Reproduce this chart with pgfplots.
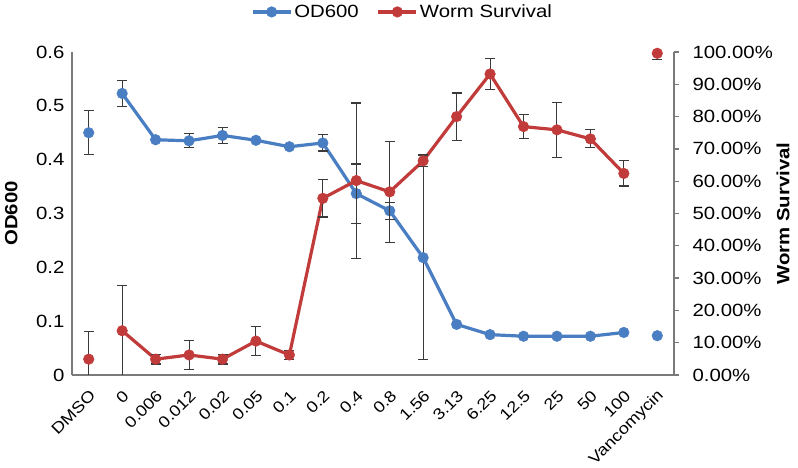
\documentclass[border=0pt]{standalone}
\usepackage{pgfplots}
\usepackage{pgfplotstable}
\pgfplotsset{compat=1.18}
\usepackage{fontspec}
\setmainfont{Liberation Sans}[FakeStretch=1.15]
\definecolor{odblue}{HTML}{4A7EC2}
\definecolor{wsred}{HTML}{C23B3B}
\definecolor{axgray}{HTML}{7A7A7A}
\definecolor{errgray}{HTML}{3A3A3A}
\newcommand\fs{\fontsize{17.7pt}{21pt}\selectfont}
\newcommand\fx{\fontsize{15.8pt}{19pt}\selectfont}

\pgfplotstableread{
x y e
1 0.523 0.024
2 0.437 0.000
3 0.435 0.013
4 0.445 0.015
5 0.436 0.000
6 0.424 0.000
7 0.431 0.015
8 0.337 0.055
9 0.305 0.016
10 0.218 0.190
11 0.094 0.000
12 0.075 0.000
13 0.072 0.000
14 0.072 0.000
15 0.072 0.000
16 0.079 0.000
}\odline
\pgfplotstableread{
x y e
0 0.450 0.041
17 0.073 0.000
}\odsingle
\pgfplotstableread{
x y e
1 13.7 14.1
2 4.9 1.5
3 6.2 4.4
4 4.9 1.5
5 10.5 4.4
6 6.2 1.5
7 54.7 5.8
8 60.2 24.0
9 56.7 15.6
10 66.3 1.8
11 80.0 7.3
12 93.2 4.8
13 76.9 3.8
14 75.9 8.6
15 73.1 2.8
16 62.4 3.9
}\wsline
\pgfplotstableread{
x y e
0 4.9 8.5
17 99.6 2.0
}\wssingle

\pgfplotsset{
  errstyle/.style={error bars/.cd, y dir=both, y explicit,
    error bar style={errgray, line width=1.1pt},
    error mark options={errgray, rotate=90, mark size=5pt, line width=1.1pt}},
  common/.style={scale only axis, width=602pt, height=323pt,
    at={(72pt,93pt)}, anchor=south west, xmin=-0.5, xmax=17.5,
    clip mode=individual, axis line style={-, axgray, line width=1.3pt},
    /pgf/number format/assume math mode=true,
    tick label style={font=\fs}, label style={font=\fs\bfseries}},
}

\begin{document}
\begin{tikzpicture}[x=1pt,y=1pt]
\path[use as bounding box] (0,0) rectangle (798,468);
\begin{axis}[common,
  axis x line*=bottom, axis y line*=left,
  ymin=0, ymax=0.6,
  xtick={0,...,17},
  xticklabels={DMSO,0,0.006,0.012,0.02,0.05,0.1,0.2,0.4,0.8,1.56,3.13,6.25,12.5,25,50,100,Vancomycin},
  xtick style={draw=none}, ytick style={draw=none},
  ytick={0,0.1,0.2,0.3,0.4,0.5,0.6},
  yticklabels={0,0.1,0.2,0.3,0.4,0.5,0.6},
  yticklabel style={xshift=-4pt},
  xticklabel style={font=\fx, xshift=4pt, yshift=-18pt, rotate=45, anchor=east, inner sep=0pt},
  ylabel={OD600},
  ylabel style={at={(axis description cs:-0.101,0.5)}, anchor=center},
]
\addplot[odblue, line width=3.2pt, mark=*, mark size=5.3pt,
  mark options={fill=odblue, draw=odblue, line width=0.5pt}, errstyle]
  table[x=x, y=y, y error=e]{\odline};
\addplot[odblue, only marks, mark=*, mark size=5.3pt,
  mark options={fill=odblue, draw=odblue, line width=0.5pt}, errstyle]
  table[x=x, y=y, y error=e]{\odsingle};
\end{axis}
\begin{axis}[common,
  axis x line=none, axis y line*=right,
  ymin=0, ymax=100,
  ytick={0,10,20,30,40,50,60,70,80,90,100},
  yticklabels={0.00\%,10.00\%,20.00\%,30.00\%,40.00\%,50.00\%,60.00\%,70.00\%,80.00\%,90.00\%,100.00\%},
  tick align=outside, major tick length=5pt,
  ytick style={axgray, line width=1.3pt},
  yticklabel style={xshift=10pt},
  ylabel={Worm Survival},
  ylabel style={at={(axis description cs:1.181,0.5)}, anchor=center},
  legend style={at={(axis description cs:0.549,1.124)}, anchor=center,
    draw=none, fill=none, font=\fs, inner sep=0pt,
    /tikz/every even column/.append style={column sep=16pt}},
  legend columns=2,
  legend image code/.code={\draw[mark repeat=2, mark phase=2, #1] plot coordinates {(0pt,0pt) (19pt,0pt) (38pt,0pt)};},
]
\addlegendimage{odblue, line width=3.2pt, mark=*, mark size=5.3pt, mark options={fill=odblue, draw=odblue, line width=0.5pt}}
\addlegendentry{OD600}
\addplot[wsred, line width=3.2pt, mark=*, mark size=5.3pt,
  mark options={fill=wsred, draw=wsred, line width=0.5pt}, errstyle]
  table[x=x, y=y, y error=e]{\wsline};
\addlegendentry{Worm Survival}
\addplot[wsred, only marks, mark=*, mark size=5.3pt, forget plot,
  mark options={fill=wsred, draw=wsred, line width=0.5pt}, errstyle]
  table[x=x, y=y, y error=e]{\wssingle};
\end{axis}
\end{tikzpicture}
\end{document}
